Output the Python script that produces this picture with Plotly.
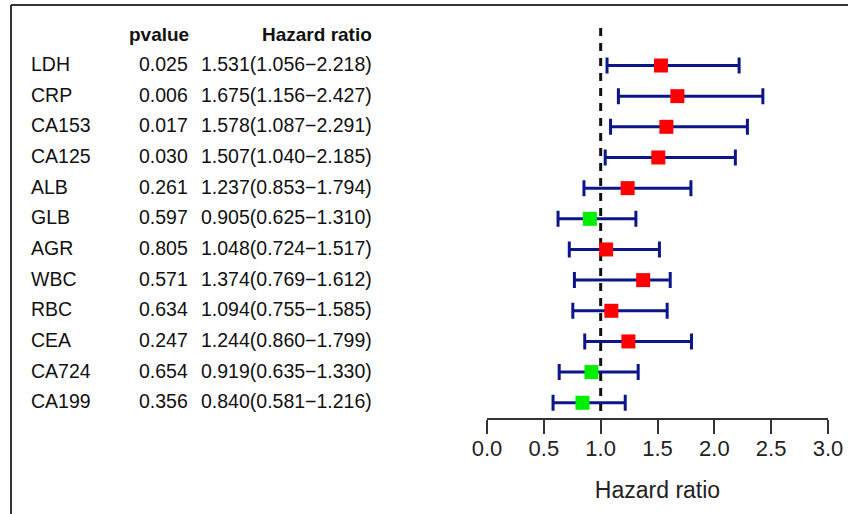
import plotly.graph_objects as go

labels = ["LDH", "CRP", "CA153", "CA125", "ALB", "GLB", "AGR", "WBC", "RBC", "CEA", "CA724", "CA199"]
pvalues = ["0.025", "0.006", "0.017", "0.030", "0.261", "0.597", "0.805", "0.571", "0.634", "0.247", "0.654", "0.356"]
hr = [1.531, 1.675, 1.578, 1.507, 1.237, 0.905, 1.048, 1.374, 1.094, 1.244, 0.919, 0.840]
low = [1.056, 1.156, 1.087, 1.040, 0.853, 0.625, 0.724, 0.769, 0.755, 0.860, 0.635, 0.581]
high = [2.218, 2.427, 2.291, 2.185, 1.794, 1.310, 1.517, 1.612, 1.585, 1.799, 1.330, 1.216]
tick_vals = [0.0, 0.5, 1.0, 1.5, 2.0, 2.5, 3.0]

W, H = 848, 514
FONT = "Liberation Sans, Arial, sans-serif"

rows = list(range(len(labels)))
colors = ["#00EE00" if h < 1 else "#FF0000" for h in hr]

fig = go.Figure()
fig.add_trace(go.Scatter(
    x=hr, y=rows, mode="markers",
    marker=dict(symbol="square", size=14, color=colors, line=dict(width=0)),
    error_x=dict(type="data", symmetric=False,
                 array=[h - m for h, m in zip(high, hr)],
                 arrayminus=[m - l for m, l in zip(hr, low)],
                 color="#0C168A", thickness=3, width=8),
    showlegend=False, hoverinfo="skip",
))

def px(x):
    return x / W

def py(y):
    return 1 - y / H

# y index mapping: pixel = 65.5 + 30.66*i
top_i = (5 - 65.5) / 30.66
bot_i = (418 - 65.5) / 30.66

fig.update_layout(
    width=W, height=H, margin=dict(l=0, r=0, t=0, b=0, pad=0, autoexpand=False),
    paper_bgcolor="white", plot_bgcolor="white",
    font=dict(family=FONT, color="#111"),
    xaxis=dict(domain=[px(487), px(828)], range=[0, 3], tickvals=tick_vals,
               ticktext=[f"{v:.1f}" for v in tick_vals],
               showgrid=False, zeroline=False, showline=True, linecolor="#333", linewidth=1.5,
               ticks="outside", ticklen=14, tickwidth=1.5, tickcolor="#333",
               ticklabelstandoff=-4,
               tickfont=dict(size=22, color="#222", family=FONT),
               title=dict(text="Hazard ratio", font=dict(size=23, color="#222", family=FONT), standoff=22),
               anchor="y", fixedrange=True, automargin=False),
    yaxis=dict(domain=[py(418), py(5)], range=[bot_i, top_i], visible=False, fixedrange=True,
               automargin=False),
)

# reference dashed line at HR = 1
fig.add_shape(type="line", xref="x", yref="y", x0=1, x1=1, y0=(28 - 65.5) / 30.66, y1=bot_i + 0.3,
              line=dict(color="#111", width=3, dash="8px,7px"), layer="below")

# frame lines (top and left)
fig.add_shape(type="line", xref="paper", yref="paper", x0=px(11), x1=1, y0=py(5), y1=py(5),
              line=dict(color="#333", width=2))
fig.add_shape(type="line", xref="paper", yref="paper", x0=px(11), x1=px(11), y0=py(5), y1=0,
              line=dict(color="#333", width=2))

# header
fig.add_annotation(x=px(191), y=-1, xref="paper", yref="y", text="<b>pvalue</b>", showarrow=False,
                   xanchor="right", yanchor="middle", font=dict(size=19, color="#111"))
fig.add_annotation(x=px(374), y=-1, xref="paper", yref="y", text="<b>Hazard ratio</b>", showarrow=False,
                   xanchor="right", yanchor="middle", font=dict(size=19, color="#111"))

for i, (lab, p, h, l, u) in enumerate(zip(labels, pvalues, hr, low, high)):
    fig.add_annotation(x=px(29), y=i - 0.05, xref="paper", yref="y", text=lab, showarrow=False,
                       xanchor="left", yanchor="middle", font=dict(size=19.5, color="#111"))
    fig.add_annotation(x=px(190), y=i - 0.05, xref="paper", yref="y", text=p, showarrow=False,
                       xanchor="right", yanchor="middle", font=dict(size=19.5, color="#111"))
    fig.add_annotation(x=px(374), y=i - 0.05, xref="paper", yref="y",
                       text=f"{h:.3f}({l:.3f}\u2212{u:.3f})", showarrow=False,
                       xanchor="right", yanchor="middle", font=dict(size=19.5, color="#111"))

fig.write_html("out.html")
